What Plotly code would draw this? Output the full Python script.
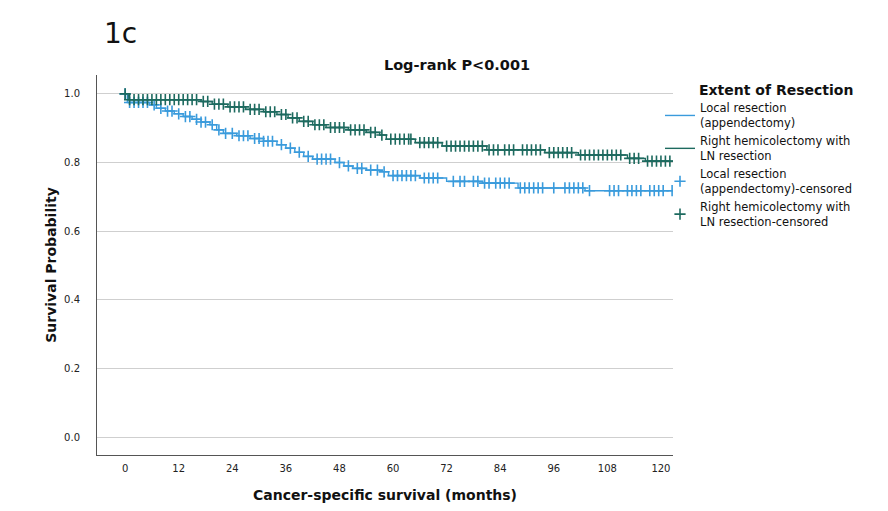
import numpy as np
import plotly.graph_objects as go

# Kaplan-Meier step data (months, survival probability)
local_times = [0, 0.5, 5.5, 7, 9, 11, 13, 15, 17, 19, 20.5, 22, 25, 28, 31, 34, 36, 38, 40, 42,
               47, 49, 51, 54, 57, 59, 66, 72, 80, 88, 103, 122.7]
local_surv = [1.0, 0.975, 0.968, 0.958, 0.950, 0.942, 0.934, 0.926, 0.918, 0.910, 0.895, 0.885,
              0.878, 0.870, 0.862, 0.852, 0.842, 0.830, 0.818, 0.810, 0.800, 0.790, 0.783, 0.778,
              0.773, 0.762, 0.755, 0.745, 0.740, 0.726, 0.718, 0.718]

rhc_times = [0, 0.7, 17, 19.5, 23, 27, 31, 34, 36.5, 39, 42, 45, 50, 54, 57, 58.5, 65, 71, 81,
             94, 101.5, 112.5, 116.5, 122.7]
rhc_surv = [1.0, 0.983, 0.978, 0.970, 0.962, 0.955, 0.948, 0.940, 0.930, 0.920, 0.910, 0.902,
            0.895, 0.888, 0.880, 0.868, 0.858, 0.848, 0.837, 0.829, 0.822, 0.812, 0.804, 0.804]

# Censoring times (months)
local_cens = [0, 1, 2, 3, 4, 5, 6.5, 8, 9.5, 10.5, 12, 13.5, 14.5, 16, 17, 18, 19.5, 21, 22.5, 24,
              25.5, 26.5, 27.5, 29, 30, 31, 32, 33, 35, 37, 39, 41, 43, 44, 45, 46, 48, 50, 52, 53,
              55, 56.5, 58, 60, 61, 62, 63, 64, 65, 67, 68, 69, 70, 73.5, 75, 76, 78, 79, 80.5,
              81.5, 83, 84, 85, 86, 88.5, 89.5, 90.5, 91.5, 92.5, 93.5, 96, 98.5, 99.5, 100.5,
              101.5, 102.5, 104, 108.5, 109.5, 110.5, 112.5, 113.5, 114.5, 115.5, 117.5, 118.5,
              119.5, 120.5, 122.5]
rhc_cens = [0, 1, 2, 3, 4, 5, 6, 7, 8, 9, 10, 11, 12, 13, 14, 15, 16, 17.5, 18.5, 20, 21, 22,
            23.5, 24.5, 25.5, 26.5, 28, 29, 30, 31.5, 32.5, 33.5, 35, 36, 37.5, 38.5, 40, 41,
            42.5, 43.5, 44.5, 46, 47, 48, 49, 50.5, 51.5, 52.5, 53.5, 55, 56, 57.5, 59.5, 60.5,
            61.5, 62.5, 63.5, 64, 66, 67, 68, 69, 70, 72, 73, 74, 75, 76, 77, 78, 79, 80, 81.5,
            82.5, 83.5, 85, 86, 87, 89, 90, 91, 92, 93, 95, 96, 97, 98, 99, 100, 102, 103, 104,
            105, 106, 107, 108, 109, 110, 111, 113, 114, 115, 117, 118, 119, 120, 121, 122]

x_ticks = [0, 12, 24, 36, 48, 60, 72, 84, 96, 108, 120]
y_ticks = [0.0, 0.2, 0.4, 0.6, 0.8, 1.0]

BLUE = "#3a9bdc"
GREEN = "#1d6a5f"


def step_value(times, surv, t):
    idx = np.searchsorted(np.array(times), np.array(t), side="right") - 1
    return np.array(surv)[idx]


fig = go.Figure()
fig.add_trace(go.Scatter(x=local_times, y=local_surv, mode="lines", line=dict(color=BLUE, width=1.4, shape="hv"),
                         name="Local resection<br>(appendectomy)"))
fig.add_trace(go.Scatter(x=rhc_times, y=rhc_surv, mode="lines", line=dict(color=GREEN, width=1.4, shape="hv"),
                         name="Right hemicolectomy with<br>LN resection"))
fig.add_trace(go.Scatter(x=local_cens, y=step_value(local_times, local_surv, local_cens), mode="markers",
                         marker=dict(symbol="cross-thin", size=8, line=dict(color=BLUE, width=1.6)),
                         name="Local resection<br>(appendectomy)-censored"))
fig.add_trace(go.Scatter(x=rhc_cens, y=step_value(rhc_times, rhc_surv, rhc_cens), mode="markers",
                         marker=dict(symbol="cross-thin", size=8, line=dict(color=GREEN, width=1.6)),
                         name="Right hemicolectomy with<br>LN resection-censored"))

FONT = "DejaVu Sans"
W, H = 880, 503
L, R, T, B = 89, 215, 67, 56
PW, PH = W - L - R, H - T - B

fig.update_layout(
    width=W, height=H,
    margin=dict(l=L, r=R, t=T, b=B, autoexpand=False),
    paper_bgcolor="white", plot_bgcolor="white",
    font=dict(family=FONT, color="#222222", size=11),
    title=dict(text="<b>Log-rank P<0.001</b>", x=449 / W, xanchor="center",
               y=1 - 57 / H, yanchor="middle", font=dict(size=14.5, family=FONT, color="#111111")),
    showlegend=True,
    legend=dict(x=(652 - L) / PW, xanchor="left", y=1 - (86 - T) / PH, yanchor="top",
                font=dict(size=11.5, family=FONT, color="#111111"),
                itemwidth=30, tracegroupgap=0, bgcolor="rgba(0,0,0,0)", traceorder="normal"),
    annotations=[
        dict(text="1c", x=(94 - L) / PW, y=1 + (T - 25) / PH, xref="paper", yref="paper", xanchor="left",
             yanchor="middle", showarrow=False, font=dict(size=28, family=FONT, color="#111111")),
        dict(text="<b>Extent of Resection</b>", x=(689 - L) / PW, y=1 - (82 - T) / PH, xref="paper", yref="paper",
             xanchor="left", yanchor="middle", showarrow=False, font=dict(size=14, family=FONT, color="#111111")),
    ],
)
fig.update_xaxes(range=[-6.3, 122.7], tickvals=x_ticks, ticktext=[str(v) for v in x_ticks],
                 showgrid=False, zeroline=False, showline=True, linecolor="#555555", linewidth=1,
                 ticks="", tickfont=dict(size=10, family=FONT, color="#222222"), ticklabelstandoff=4,
                 title=dict(text="<b>Cancer-specific survival (months)</b>", font=dict(size=14, family=FONT, color="#111111"),
                            standoff=17))
fig.update_yaxes(range=[-0.052, 1.055], tickvals=y_ticks, ticktext=[f"{v:.1f}" for v in y_ticks],
                 showgrid=True, gridcolor="#cfcfcf", gridwidth=1, zeroline=False, showline=True,
                 linecolor="#555555", linewidth=1, ticks="", tickfont=dict(size=10, family=FONT, color="#222222"),
                 ticklabelstandoff=14,
                 title=dict(text="<b>Survival Probability</b>", font=dict(size=14, family=FONT, color="#111111"),
                            standoff=4))

fig.write_html("out.html")
